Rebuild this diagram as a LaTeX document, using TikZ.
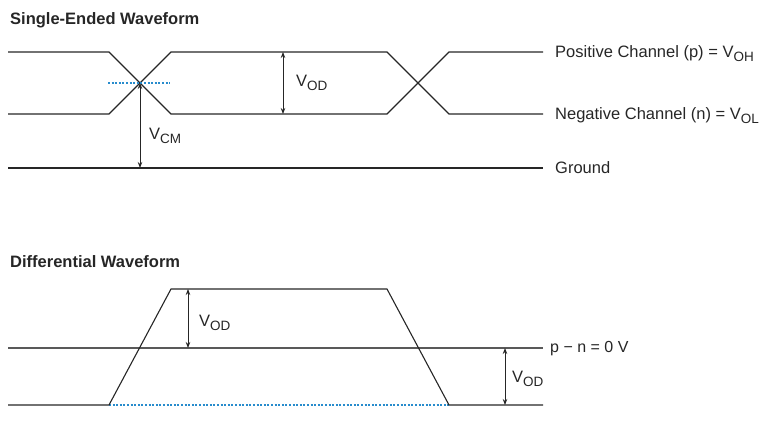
\documentclass[tikz,border=0pt]{standalone}
\usepackage{fontspec}
\setmainfont{Liberation Sans}
\usetikzlibrary{arrows.meta}
\newcommand\lowsub[1]{\raisebox{-4pt}{\fontsize{13.5}{13.5}\selectfont #1}}
\definecolor{dotblue}{RGB}{40,140,205}
\begin{document}
\begin{tikzpicture}[x=1pt,y=-1pt,
  wave/.style={line width=1.1pt,black!85,line join=miter},
  midline/.style={line width=1.3pt,black!65},
  dotline/.style={line width=1.1pt,draw=dotblue,dash pattern=on 2pt off 1.6pt},
  dimarrow/.style={line width=0.9pt,black!85,{Stealth[length=6pt,width=4.5pt]}-{Stealth[length=6pt,width=4.5pt]}},
  lbl/.style={font=\fontsize{16.5}{18}\selectfont,inner sep=0pt,anchor=base west,text=black!85},
  ttl/.style={font=\fontsize{16.5}{18}\selectfont\bfseries,inner sep=0pt,anchor=base west,text=black!85}]
\useasboundingbox (0,0) rectangle (761,425);

% titles
\node[ttl] (t1) at (10,25) {Single-Ended Waveform};
\node[ttl] (t2) at (10,267) {Differential Waveform};

% single-ended coordinates
\coordinate (a0) at (8,52);   \coordinate (a1) at (109,52);
\coordinate (a2) at (171,114); \coordinate (a3) at (387,114);
\coordinate (a4) at (449,52);  \coordinate (a5) at (543,52);
\coordinate (b0) at (8,114);  \coordinate (b1) at (109,114);
\coordinate (b2) at (171,52); \coordinate (b3) at (387,52);
\coordinate (b4) at (449,114); \coordinate (b5) at (543,114);
\coordinate (g0) at (8,168);  \coordinate (g1) at (543,168);
\coordinate (x0) at (140,83);
\coordinate (d0) at (108,83); \coordinate (d1) at (170,83);
\coordinate (gx) at (140,168);
\coordinate (od1) at (283,52); \coordinate (od2) at (283,114);

\draw[wave] (a0) -- (a1) -- (a2) -- (a3) -- (a4) -- (a5);
\draw[wave] (b0) -- (b1) -- (b2) -- (b3) -- (b4) -- (b5);
\draw[wave] (g0) -- (g1);
\draw[dotline] (d0) -- (d1);
\draw[dimarrow] (x0) -- (gx);
\draw[dimarrow] (od1) -- (od2);

\node[lbl] (vcm) at (149,140) {V\lowsub{CM}};
\node[lbl] (vod1) at (296,87) {V\lowsub{OD}};
\node[lbl] (pos) at (555,58) {Positive Channel (p) = V\lowsub{OH}};
\node[lbl] (neg) at (555,120) {Negative Channel (n) = V\lowsub{OL}};
\node[lbl] (gnd) at (555,174) {Ground};

% differential coordinates
\coordinate (c0) at (8,405);  \coordinate (c1) at (109,405);
\coordinate (c2) at (171,289); \coordinate (c3) at (387,289);
\coordinate (c4) at (449,405); \coordinate (c5) at (543,405);
\coordinate (m0) at (8,348);  \coordinate (m1) at (543,348);
\coordinate (e1) at (188,289); \coordinate (e2) at (188,348);
\coordinate (f1) at (505,348); \coordinate (f2) at (505,405);

\draw[midline] (m0) -- (m1);
\draw[dotline] (c1) -- (c4);
\draw[wave] (c0) -- (c1) -- (c2) -- (c3) -- (c4) -- (c5);
\draw[dimarrow] (e1) -- (e2);
\draw[dimarrow] (f1) -- (f2);

\node[lbl] (vod2) at (199,326) {V\lowsub{OD}};
\node[lbl] (vod3) at (512,382) {V\lowsub{OD}};
\node[lbl,font=\fontsize{16}{18}\selectfont] (zero) at (550,352) {p − n = 0 V};
\end{tikzpicture}
\end{document}
